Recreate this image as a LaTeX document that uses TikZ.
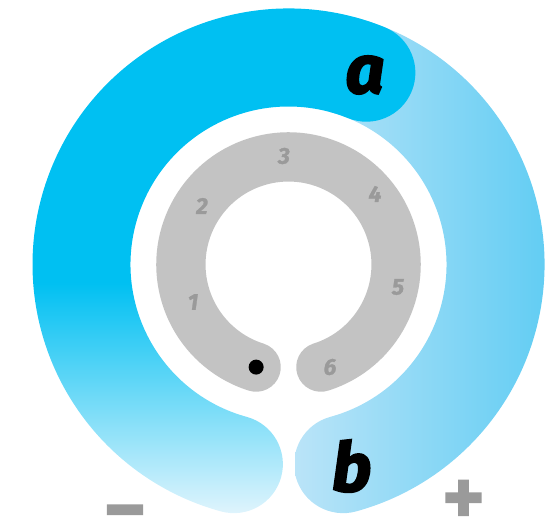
\documentclass[tikz,border=0pt]{standalone}
\usepackage{fontspec}
\newfontfamily\lblfont[FakeBold=1.2]{Fira Sans}
\newfontfamily\letterfont[FakeBold=2.5]{Fira Sans}
\newfontfamily\signfont[FakeBold=10]{DejaVu Sans}
\definecolor{deepcyan}{RGB}{0,192,242}
\definecolor{palecyan}{RGB}{232,246,253}
\definecolor{ltblue}{RGB}{186,228,248}
\definecolor{midblue}{RGB}{98,205,243}
\definecolor{dialgray}{RGB}{195,195,195}
\definecolor{numgray}{RGB}{154,154,154}

\begin{document}
\begin{tikzpicture}[x=1pt,y=1pt,
  num/.style={font=\lblfont\bfseries\itshape\fontsize{23}{23}\selectfont,text=numgray},
  letter/.style={font=\letterfont\bfseries\itshape\fontsize{68}{68}\selectfont},
  sign/.style={font=\signfont\bfseries\fontsize{50}{50}\selectfont,text=numgray,inner sep=0pt,anchor=base}]
\useasboundingbox (-288.5,-256.5) rectangle (270.5,264.5);
% right band, fades across
\begin{scope}
\clip (75:256) arc[start angle=75,end angle=-74.7,radius=256]
  arc[start angle=-74.7,end angle=-254.7,radius=49]
  arc[start angle=-74.7,end angle=75,radius=158] -- cycle;
\shade[left color=ltblue,right color=midblue] (7,-260) rectangle (258,260);
\end{scope}
% left band, on top
\begin{scope}
\clip (67.9:256) arc[start angle=67.9,end angle=254.7,radius=256]
  arc[start angle=254.7,end angle=434.7,radius=49]
  arc[start angle=254.7,end angle=67.9,radius=158]
  arc[start angle=247.9,end angle=427.9,radius=49] -- cycle;
\fill[deepcyan] (-300,-18) rectangle (300,300);
\shade[top color=deepcyan,bottom color=palecyan] (-300,-258) rectangle (300,-18);
\end{scope}
% dial
\draw[dialgray,line width=49.3,line cap=round] (-72.5:107.6) arc[start angle=-72.5,end angle=252.5,radius=107.6];
\fill (252.5:107.6) circle (7.5);
\foreach \n/\x/\y in {1/-95.5/-37.5,2/-86.5/58.5,3/-4.5/108.5,4/86.5/70.5,5/109.5/-22.5,6/41.5/-102.5}
  \node[num] (n\n) at (\x,\y) {\n};
\node[letter] (a) at (76.5,189.5) {a};
\node[letter] (b) at (63.2,-201.5) {b};
\node[sign] (plus) at (175,-249) {+};
\node[sign] (minus) at (-163.5,-261) {−};
\end{tikzpicture}
\end{document}
